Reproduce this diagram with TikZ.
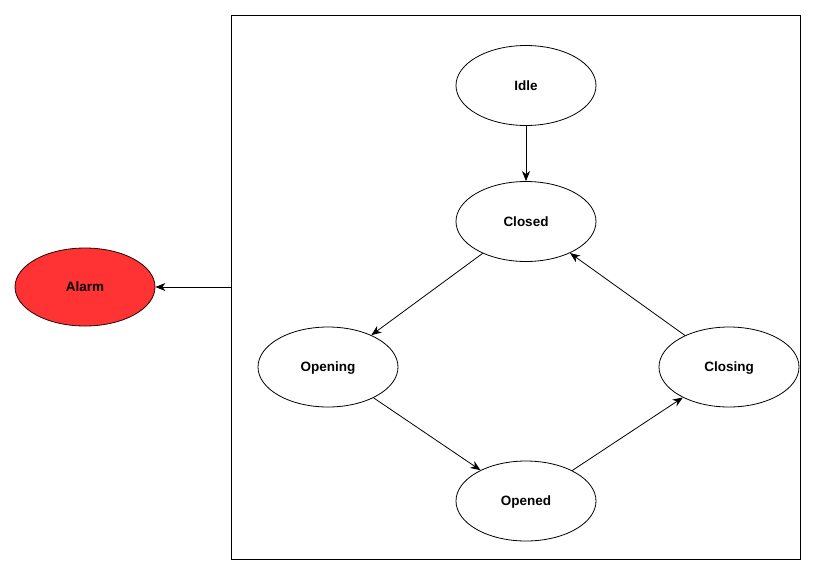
\documentclass[tikz,border=0pt]{standalone}
\usepackage{fontspec}
\setmainfont{Liberation Sans}
\usetikzlibrary{shapes.geometric,arrows.meta}
\definecolor{alarmred}{HTML}{FF3333}
\tikzset{
  state/.style={ellipse, draw=black, line width=0.8pt, fill=white, minimum width=140pt, minimum height=80pt, inner sep=0pt,
    text depth=0pt, font=\fontsize{13.5pt}{16pt}\selectfont\bfseries},
  trans/.style={draw=black, line width=0.8pt, -{Stealth[length=10pt,width=8pt,inset=3pt]}},
  frame/.style={draw=black, line width=0.8pt, minimum width=569pt, minimum height=544pt, inner sep=0pt}
}
\begin{document}
\begin{tikzpicture}[x=1pt,y=-1pt]
\useasboundingbox (0,0) rectangle (814,574);
\node[frame] (box) at (515.5,287) {};
\node[state] (idle) at (526,85.5) {Idle};
\node[state] (closed) at (526,221.5) {Closed};
\node[state] (opening) at (328,367) {Opening};
\node[state] (closing) at (729,367) {Closing};
\node[state] (opened) at (526,501) {Opened};
\node[state, fill=alarmred, draw=black!85!red, minimum height=78pt] (alarm) at (85,287) {Alarm};
\draw[trans] (idle) -- (closed);
\draw[trans] (closed) -- (opening);
\draw[trans] (opening) -- (opened);
\draw[trans] (opened) -- (closing);
\draw[trans] (closing) -- (closed);
\draw[trans] (box.west) -- (alarm);
\end{tikzpicture}
\end{document}
